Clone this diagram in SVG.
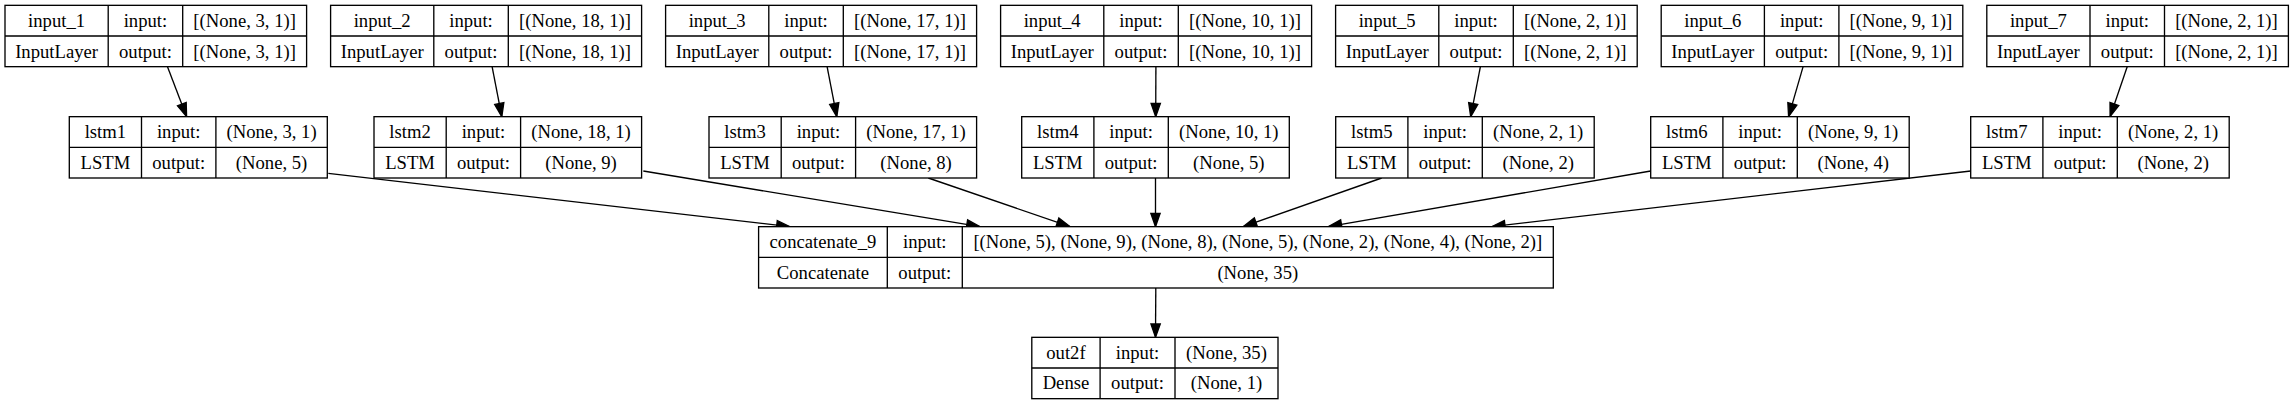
<svg xmlns="http://www.w3.org/2000/svg" width="2293" height="405" viewBox="0 0 2293 405">
<style>
.box{fill:#fff;stroke:#000;stroke-width:1.33}
.dv{fill:none;stroke:#000;stroke-width:1.33}
text{font-family:"Liberation Serif","Times New Roman",serif;font-size:18.67px;text-anchor:middle;fill:#000}
.edge{fill:none;stroke:#000;stroke-width:1.33;marker-end:url(#arr)}
</style>
<defs>
<marker id="arr" markerUnits="userSpaceOnUse" markerWidth="16" markerHeight="12" refX="13.33" refY="4.67" orient="auto" overflow="visible">
<path d="M0,0 L13.33,4.67 L0,9.33 z" fill="#000" stroke="#000" stroke-width="1.33"/>
</marker>
</defs>
<rect width="2293" height="405" fill="#fff"/>
<g id="connectors">
<line class="edge" x1="167.5" y1="66.67" x2="186.6" y2="116.67"/>
<line class="edge" x1="492.1" y1="66.67" x2="501.8" y2="116.67"/>
<line class="edge" x1="827.1" y1="66.67" x2="836.8" y2="116.67"/>
<line class="edge" x1="1155.9" y1="66.67" x2="1155.7" y2="116.67"/>
<line class="edge" x1="1480.4" y1="66.67" x2="1470.7" y2="116.67"/>
<line class="edge" x1="1803.1" y1="66.67" x2="1788.6" y2="116.67"/>
<line class="edge" x1="2127.2" y1="66.67" x2="2110.1" y2="116.67"/>
<line class="edge" x1="328.3" y1="173.3" x2="790" y2="226.67"/>
<line class="edge" x1="643.3" y1="171" x2="980" y2="226.67"/>
<line class="edge" x1="928.3" y1="178" x2="1070" y2="226.67"/>
<line class="edge" x1="1155.5" y1="178" x2="1155.5" y2="226.67"/>
<line class="edge" x1="1381.7" y1="178" x2="1243.3" y2="226.67"/>
<line class="edge" x1="1650.7" y1="171" x2="1328.3" y2="226.67"/>
<line class="edge" x1="1970.7" y1="171" x2="1491.7" y2="226.67"/>
<line class="edge" x1="1155.8" y1="288" x2="1155.5" y2="337.33"/>
</g>
<g id="input_1">
<rect class="box" x="5" y="5.33" width="301.6" height="61.34"/>
<path class="dv" d="M5,36H306.6M108.2,5.33V66.67M182.7,5.33V66.67"/>
<text x="56.6" y="27">input_1</text><text x="145.45" y="27">input:</text><text x="244.65" y="27">[(None, 3, 1)]</text>
<text x="56.6" y="57.7">InputLayer</text><text x="145.45" y="57.7">output:</text><text x="244.65" y="57.7">[(None, 3, 1)]</text>
</g>
<g id="input_2">
<rect class="box" x="330.6" y="5.33" width="311" height="61.34"/>
<path class="dv" d="M330.6,36H641.6M433.8,5.33V66.67M508.3,5.33V66.67"/>
<text x="382.2" y="27">input_2</text><text x="471.05" y="27">input:</text><text x="574.95" y="27">[(None, 18, 1)]</text>
<text x="382.2" y="57.7">InputLayer</text><text x="471.05" y="57.7">output:</text><text x="574.95" y="57.7">[(None, 18, 1)]</text>
</g>
<g id="input_3">
<rect class="box" x="665.6" y="5.33" width="311" height="61.34"/>
<path class="dv" d="M665.6,36H976.6M768.8,5.33V66.67M843.3,5.33V66.67"/>
<text x="717.2" y="27">input_3</text><text x="806.05" y="27">input:</text><text x="909.95" y="27">[(None, 17, 1)]</text>
<text x="717.2" y="57.7">InputLayer</text><text x="806.05" y="57.7">output:</text><text x="909.95" y="57.7">[(None, 17, 1)]</text>
</g>
<g id="input_4">
<rect class="box" x="1000.6" y="5.33" width="311" height="61.34"/>
<path class="dv" d="M1000.6,36H1311.6M1103.8,5.33V66.67M1178.3,5.33V66.67"/>
<text x="1052.2" y="27">input_4</text><text x="1141.05" y="27">input:</text><text x="1244.95" y="27">[(None, 10, 1)]</text>
<text x="1052.2" y="57.7">InputLayer</text><text x="1141.05" y="57.7">output:</text><text x="1244.95" y="57.7">[(None, 10, 1)]</text>
</g>
<g id="input_5">
<rect class="box" x="1335.6" y="5.33" width="301.6" height="61.34"/>
<path class="dv" d="M1335.6,36H1637.2M1438.8,5.33V66.67M1513.3,5.33V66.67"/>
<text x="1387.2" y="27">input_5</text><text x="1476.05" y="27">input:</text><text x="1575.25" y="27">[(None, 2, 1)]</text>
<text x="1387.2" y="57.7">InputLayer</text><text x="1476.05" y="57.7">output:</text><text x="1575.25" y="57.7">[(None, 2, 1)]</text>
</g>
<g id="input_6">
<rect class="box" x="1661.2" y="5.33" width="301.6" height="61.34"/>
<path class="dv" d="M1661.2,36H1962.8M1764.4,5.33V66.67M1838.9,5.33V66.67"/>
<text x="1712.8" y="27">input_6</text><text x="1801.65" y="27">input:</text><text x="1900.85" y="27">[(None, 9, 1)]</text>
<text x="1712.8" y="57.7">InputLayer</text><text x="1801.65" y="57.7">output:</text><text x="1900.85" y="57.7">[(None, 9, 1)]</text>
</g>
<g id="input_7">
<rect class="box" x="1986.8" y="5.33" width="301.6" height="61.34"/>
<path class="dv" d="M1986.8,36H2288.4M2090,5.33V66.67M2164.5,5.33V66.67"/>
<text x="2038.4" y="27">input_7</text><text x="2127.25" y="27">input:</text><text x="2226.45" y="27">[(None, 2, 1)]</text>
<text x="2038.4" y="57.7">InputLayer</text><text x="2127.25" y="57.7">output:</text><text x="2226.45" y="57.7">[(None, 2, 1)]</text>
</g>
<g id="lstm1">
<rect class="box" x="69.3" y="116.67" width="258" height="61.33"/>
<path class="dv" d="M69.3,147.33H327.3M141.5,116.67V178M215.9,116.67V178"/>
<text x="105.4" y="138">lstm1</text><text x="178.7" y="138">input:</text><text x="271.6" y="138">(None, 3, 1)</text>
<text x="105.4" y="168.7">LSTM</text><text x="178.7" y="168.7">output:</text><text x="271.6" y="168.7">(None, 5)</text>
</g>
<g id="lstm2">
<rect class="box" x="374" y="116.67" width="267.6" height="61.33"/>
<path class="dv" d="M374,147.33H641.6M446.2,116.67V178M520.6,116.67V178"/>
<text x="410.1" y="138">lstm2</text><text x="483.4" y="138">input:</text><text x="581.1" y="138">(None, 18, 1)</text>
<text x="410.1" y="168.7">LSTM</text><text x="483.4" y="168.7">output:</text><text x="581.1" y="168.7">(None, 9)</text>
</g>
<g id="lstm3">
<rect class="box" x="709" y="116.67" width="267.6" height="61.33"/>
<path class="dv" d="M709,147.33H976.6M781.2,116.67V178M855.6,116.67V178"/>
<text x="745.1" y="138">lstm3</text><text x="818.4" y="138">input:</text><text x="916.1" y="138">(None, 17, 1)</text>
<text x="745.1" y="168.7">LSTM</text><text x="818.4" y="168.7">output:</text><text x="916.1" y="168.7">(None, 8)</text>
</g>
<g id="lstm4">
<rect class="box" x="1021.7" y="116.67" width="267.6" height="61.33"/>
<path class="dv" d="M1021.7,147.33H1289.3M1093.9,116.67V178M1168.3,116.67V178"/>
<text x="1057.8" y="138">lstm4</text><text x="1131.1" y="138">input:</text><text x="1228.8" y="138">(None, 10, 1)</text>
<text x="1057.8" y="168.7">LSTM</text><text x="1131.1" y="168.7">output:</text><text x="1228.8" y="168.7">(None, 5)</text>
</g>
<g id="lstm5">
<rect class="box" x="1335.7" y="116.67" width="258.5" height="61.33"/>
<path class="dv" d="M1335.7,147.33H1594.2M1407.9,116.67V178M1482.3,116.67V178"/>
<text x="1371.8" y="138">lstm5</text><text x="1445.1" y="138">input:</text><text x="1538.2" y="138">(None, 2, 1)</text>
<text x="1371.8" y="168.7">LSTM</text><text x="1445.1" y="168.7">output:</text><text x="1538.2" y="168.7">(None, 2)</text>
</g>
<g id="lstm6">
<rect class="box" x="1650.7" y="116.67" width="258.5" height="61.33"/>
<path class="dv" d="M1650.7,147.33H1909.2M1722.9,116.67V178M1797.3,116.67V178"/>
<text x="1686.8" y="138">lstm6</text><text x="1760.1" y="138">input:</text><text x="1853.2" y="138">(None, 9, 1)</text>
<text x="1686.8" y="168.7">LSTM</text><text x="1760.1" y="168.7">output:</text><text x="1853.2" y="168.7">(None, 4)</text>
</g>
<g id="lstm7">
<rect class="box" x="1970.7" y="116.67" width="258.5" height="61.33"/>
<path class="dv" d="M1970.7,147.33H2229.2M2042.9,116.67V178M2117.3,116.67V178"/>
<text x="2006.8" y="138">lstm7</text><text x="2080.1" y="138">input:</text><text x="2173.2" y="138">(None, 2, 1)</text>
<text x="2006.8" y="168.7">LSTM</text><text x="2080.1" y="168.7">output:</text><text x="2173.2" y="168.7">(None, 2)</text>
</g>
<g id="concatenate_9">
<rect class="box" x="758.6" y="226.67" width="794.7" height="61.33"/>
<path class="dv" d="M758.6,257.33H1553.3M887.3,226.67V288M962.3,226.67V288"/>
<text x="822.95" y="248">concatenate_9</text><text x="924.8" y="248">input:</text><text x="1257.8" y="248">[(None, 5), (None, 9), (None, 8), (None, 5), (None, 2), (None, 4), (None, 2)]</text>
<text x="822.95" y="278.7">Concatenate</text><text x="924.8" y="278.7">output:</text><text x="1257.8" y="278.7">(None, 35)</text>
</g>
<g id="out2f">
<rect class="box" x="1031.8" y="337.33" width="246.2" height="61.34"/>
<path class="dv" d="M1031.8,368H1278M1100.1,337.33V398.67M1175,337.33V398.67"/>
<text x="1065.95" y="358.7">out2f</text><text x="1137.55" y="358.7">input:</text><text x="1226.5" y="358.7">(None, 35)</text>
<text x="1065.95" y="389.3">Dense</text><text x="1137.55" y="389.3">output:</text><text x="1226.5" y="389.3">(None, 1)</text>
</g>
</svg>
